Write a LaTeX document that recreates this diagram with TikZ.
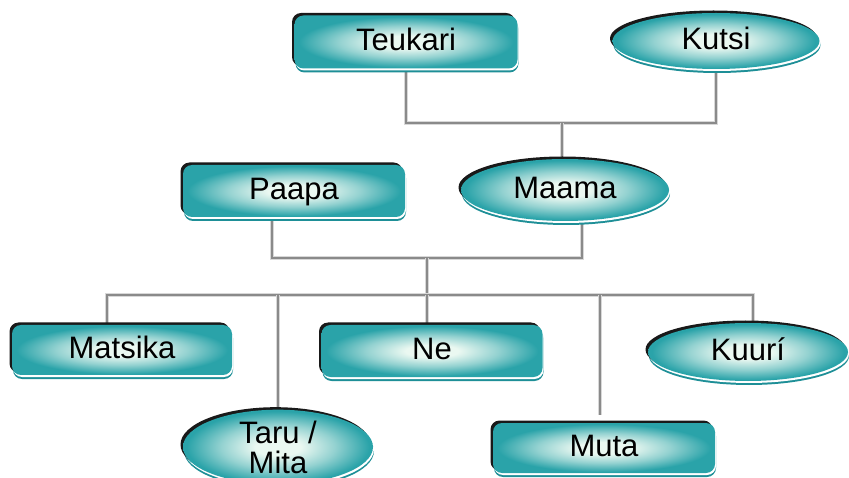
\documentclass[tikz,border=0pt]{standalone}
\usepackage{fontspec}
\setmainfont{Liberation Sans}
\usetikzlibrary{shapes.geometric,backgrounds}
\definecolor{tealc}{HTML}{2AA3A9}
\definecolor{tealdk}{HTML}{1E8F97}
\definecolor{glowc}{HTML}{EAF8F1}
\definecolor{linedk}{HTML}{8A8A8A}
\definecolor{linelt}{HTML}{D8D8D8}
% soft light centre fading to teal towards the rim
\pgfdeclareradialshading{glow}{\pgfpoint{0bp}{0bp}}{%
  color(0bp)=(glowc); color(6bp)=(glowc);
  color(15bp)=(tealc!45!glowc); color(24bp)=(tealc);
  color(50bp)=(tealc)}
\tikzset{
  member/.style={
    shading=glow, inner sep=0pt, align=center,
    font=\fontsize{31}{30}\selectfont, text=black,
    preaction={fill=tealdk, transform canvas={xshift=1pt,yshift=-4pt}},
    preaction={fill=white, transform canvas={xshift=1pt,yshift=-2pt}},
    preaction={fill=black!90, transform canvas={xshift=-2.5pt,yshift=2.5pt}}},
  boxnode/.style={member, rectangle, rounded corners=9pt,
    text height=23pt, text depth=6pt},
  ovalnode/.style={member, ellipse, text height=23pt, text depth=6pt},
  twoline/.style={member, ellipse},
  conn/.style={draw=linelt, line width=4.5pt,
    postaction={draw=linedk, line width=1.6pt}}
}
\begin{document}
\begin{tikzpicture}[x=1pt,y=-1pt]
\useasboundingbox (0,0) rectangle (849,478);

\coordinate (j1) at (562,123);
\coordinate (j2) at (427,258);
\coordinate (j3) at (427,295);

% family members
\node[boxnode, minimum width=223pt, minimum height=53pt] (teukari) at (406,42) {Teukari};
\node[ovalnode, minimum width=207pt, minimum height=56pt] (kutsi) at (716,41) {Kutsi};
\node[boxnode, minimum width=222pt, minimum height=52pt] (paapa) at (294,191) {Paapa};
\node[ovalnode, minimum width=208pt, minimum height=62pt] (maama) at (565,190) {Maama};
\node[boxnode, minimum width=220pt, minimum height=50pt] (matsika) at (122,350) {Matsika};
\node[boxnode, minimum width=221pt, minimum height=52pt] (ne) at (432,351) {Ne};
\node[ovalnode, minimum width=200pt, minimum height=58pt] (kuuri) at (748,352) {Kuurí};
\node[twoline, minimum width=190pt, minimum height=68pt] (taru) at (278,447) {Taru /\\Mita};
\node[boxnode, minimum width=222pt, minimum height=50pt] (muta) at (604,448) {Muta};

% connectors, kept beneath the members
\begin{scope}[on background layer]
\draw[conn] (teukari.south) |- (j1) -| (kutsi.south);
\draw[conn] (j1) -- (j1 |- maama.north);
\draw[conn] ([xshift=-22pt]paapa.south) |- (j2) -| ([xshift=17pt]maama.south);
\draw[conn] (j2) -- (j3);
\draw[conn] ([xshift=-15pt]matsika.north) |- (j3) -| ([xshift=5pt]kuuri.north);
\draw[conn] (j3) -- (j3 |- ne.north);
\draw[conn] (taru.north) -- (taru.north |- j3);
\draw[conn] ([xshift=-4pt,yshift=8pt]muta.north) -- ([xshift=-4pt]muta.north |- j3);
\end{scope}
\end{tikzpicture}
\end{document}
